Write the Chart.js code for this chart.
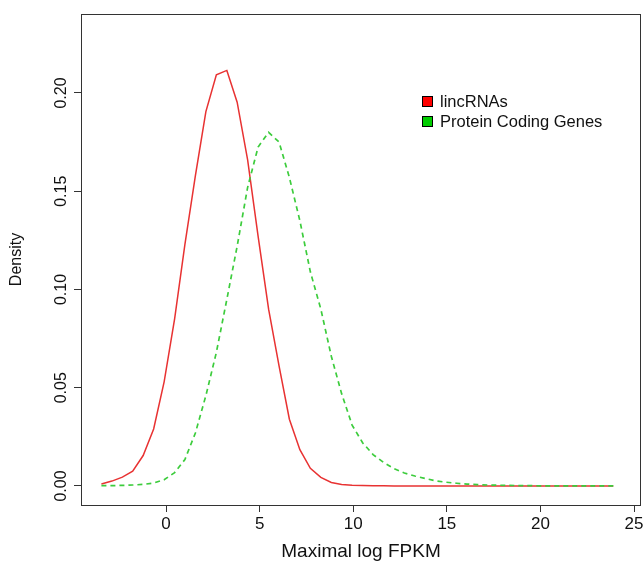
<!DOCTYPE html>
<html><head><meta charset="utf-8">
<script src="https://cdn.jsdelivr.net/npm/chart.js@4/dist/chart.umd.min.js"></script>
<style>html,body{margin:0;padding:0;background:#fff}#c{display:block}</style>
</head><body>
<canvas id="c" width="644" height="563"></canvas>
<script>
const xValues = [-3.45,-2.89,-2.33,-1.78,-1.22,-0.66,-0.10,0.46,1.01,1.57,2.13,2.69,3.25,3.80,4.36,4.92,5.48,6.04,6.59,7.15,7.71,8.27,8.83,9.38,9.94,10.50,11.06,11.62,12.18,12.73,13.29,13.85,14.41,14.97,15.52,16.08,16.64,17.20,17.76,18.31,18.87,19.43,19.99,20.55,21.10,21.66,22.22,22.78,23.34,23.89];
const lincRNAs = [0.001,0.0025,0.0045,0.0075,0.0155,0.029,0.053,0.085,0.123,0.158,0.1905,0.2093,0.2115,0.1953,0.166,0.127,0.090,0.061,0.034,0.0185,0.009,0.0044,0.0018,0.0008,0.0004,0.0002,0.0001,0.0001,0,0,0,0,0,0,0,0,0,0,0,0,0,0,0,0,0,0,0,0,0,0];
const proteinCoding = [0.0002,0.0002,0.0003,0.0005,0.0008,0.0015,0.0032,0.0068,0.0135,0.027,0.046,0.068,0.095,0.122,0.152,0.1725,0.180,0.175,0.157,0.135,0.109,0.090,0.066,0.047,0.031,0.022,0.016,0.012,0.0088,0.0066,0.0051,0.0038,0.0026,0.0019,0.0014,0.0010,0.0007,0.0005,0.0004,0.0003,0.0002,0.0002,0.0001,0.0001,0.0001,0.0001,0.0001,0.0001,0.0001,0.0001];
const seriesLabels = ['lincRNAs','Protein Coding Genes'];
const xTicks = [0,5,10,15,20,25];
const yTicks = [0,0.05,0.10,0.15,0.20];
const yTickLabels = ['0.00','0.05','0.10','0.15','0.20'];
const xTitle = 'Maximal log FPKM';
const yTitle = 'Density';

const FONT = '"Liberation Sans", Arial, Helvetica, sans-serif';
const toPts = ys => xValues.map((x,i)=>({x:x,y:ys[i]}));

const rPlugin = {
  id:'rstyle',
  afterDraw(chart){
    const ctx = chart.ctx, a = chart.chartArea;
    ctx.save();
    ctx.strokeStyle = '#333'; ctx.lineWidth = 1;
    ctx.strokeRect(Math.round(a.left)+0.5, Math.round(a.top)+0.5, Math.round(a.right-a.left)-1, Math.round(a.bottom-a.top));
    const ys = chart.scales.y;
    ctx.fillStyle = '#111';
    ctx.font = '16px ' + FONT;
    ctx.textAlign = 'center'; ctx.textBaseline = 'middle';
    yTicks.forEach((v,i)=>{
      const py = ys.getPixelForValue(v);
      ctx.save(); ctx.translate(62, py); ctx.rotate(-Math.PI/2);
      ctx.fillText(yTickLabels[i], 0, 0); ctx.restore();
    });
    const lx = 422, ly = [101,121];
    ctx.font = '16.5px ' + FONT;
    chart.data.datasets.forEach((ds,i)=>{
      ctx.fillStyle = ds.legendFill;
      ctx.fillRect(lx, ly[i]-5, 10, 10);
      ctx.strokeStyle = '#000'; ctx.lineWidth = 1;
      ctx.strokeRect(lx+0.5, ly[i]-4.5, 10, 10);
      ctx.fillStyle = '#111';
      ctx.textAlign = 'left'; ctx.textBaseline = 'middle';
      ctx.fillText(ds.label, 440, ly[i]+1);
    });
    ctx.restore();
  }
};

new Chart(document.getElementById('c'), {
  type:'line',
  data:{datasets:[
    {label:seriesLabels[0], data:toPts(lincRNAs), borderColor:'#e83232', borderWidth:1.5, pointRadius:0, tension:0, fill:false, order:1, legendFill:'#ff0000'},
    {label:seriesLabels[1], data:toPts(proteinCoding), borderColor:'#3ccc3c', borderWidth:1.7, borderDash:[5,4], pointRadius:0, tension:0, fill:false, order:0, legendFill:'#00cd00'}
  ]},
  options:{
    responsive:false, animation:false, devicePixelRatio:1,
    layout:{padding:{left:0, top:14, right:3, bottom:0}},
    plugins:{legend:{display:false}, tooltip:{enabled:false}},
    scales:{
      x:{type:'linear', min:-4.54, max:25.37,
        afterBuildTicks(s){ s.ticks = xTicks.map(v=>({value:v})); },
        afterFit(s){ s.height = 58; s.paddingLeft = 0; s.paddingRight = 0; },
        ticks:{color:'#111', font:{family:FONT, size:17}, padding:2, maxRotation:0, minRotation:0, callback:v=>String(v)},
        grid:{drawOnChartArea:false, drawTicks:true, tickLength:7, color:'#333'},
        border:{display:false},
        title:{display:true, text:xTitle, color:'#111', font:{family:FONT, size:19}, padding:{top:0,bottom:0}}
      },
      y:{type:'linear', min:-0.00967, max:0.2402,
        afterBuildTicks(s){ s.ticks = yTicks.map(v=>({value:v})); },
        afterFit(s){ s.width = 81; s.paddingTop = 0; s.paddingBottom = 0; },
        ticks:{display:false},
        grid:{drawOnChartArea:false, drawTicks:true, tickLength:7, color:'#333'},
        border:{display:false},
        title:{display:true, text:yTitle, color:'#111', font:{family:FONT, size:16}, padding:{top:7,bottom:0}}
      }
    }
  },
  plugins:[rPlugin]
});
</script>
</body></html>
